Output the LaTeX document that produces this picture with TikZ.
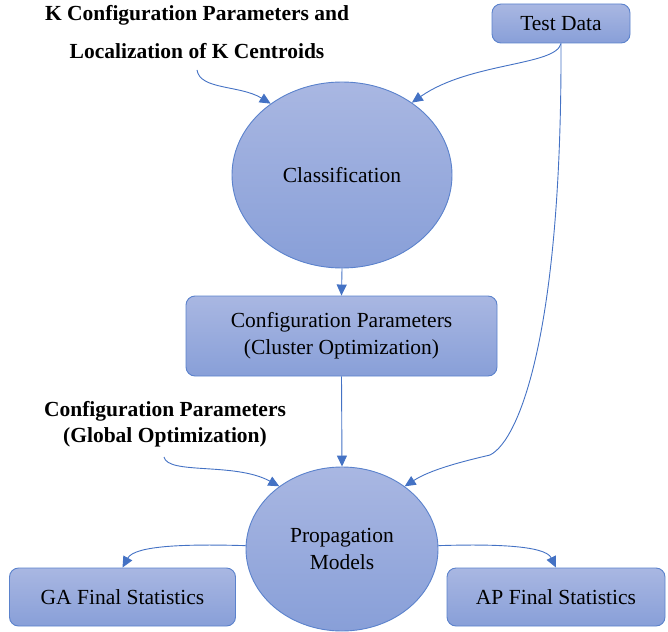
\documentclass[tikz,border=0pt]{standalone}
\usepackage{fontspec}
\setmainfont{Liberation Serif}
\usetikzlibrary{arrows.meta,shapes.geometric}
\definecolor{edgeblue}{HTML}{4472C4}
\definecolor{rimblue}{HTML}{5B82CC}
\definecolor{filltop}{HTML}{A9B7E2}
\definecolor{fillbot}{HTML}{889FD8}
\tikzset{
  shaded/.style={top color=filltop, bottom color=fillbot, draw=rimblue, line width=0.9pt,
    font=\fontsize{21.5}{27}\selectfont, align=center, inner sep=0pt},
  procbox/.style={shaded, rectangle, rounded corners=9pt},
  blob/.style={shaded, ellipse},
  flow/.style={draw=edgeblue, line width=0.9pt, -{Triangle[length=11pt,width=10pt]}},
  boldnote/.style={font=\bfseries\fontsize{21.5}{26}\selectfont, align=center, inner sep=0pt}
}
\begin{document}
\begin{tikzpicture}[x=1pt,y=-1pt]
\useasboundingbox (0,0) rectangle (668,631);

% input notes
\node[boldnote, font=\bfseries\fontsize{21.5}{38}\selectfont] (knote) at (197,32)
  {K Configuration Parameters and\\Localization of K Centroids};
\node[boldnote] (gnote) at (165,424) {Configuration Parameters\\(Global Optimization)};
\coordinate (ktail) at (197,70);
\coordinate (gtail) at (164,457);

% processing blocks
\node[procbox, minimum width=138pt, minimum height=39pt] (test) at (561,23.5) {Test Data};
\node[blob, minimum width=220pt, minimum height=186pt] (cls) at (342,175) {Classification};
\node[procbox, minimum width=311pt, minimum height=80pt] (cfg) at (341.5,336)
  {Configuration Parameters\\(Cluster Optimization)};
\node[blob, minimum width=192pt, minimum height=164pt] (prop) at (342,549) {Propagation\\Models};
\node[procbox, minimum width=226pt, minimum height=58pt] (ga) at (122.5,597) {GA Final Statistics};
\node[procbox, minimum width=218pt, minimum height=58pt] (ap) at (556,597) {AP Final Statistics};

% connectors
\draw[flow] (ktail) .. controls (200,90) and (240,85) .. (cls.135);
\draw[flow] (test.south) .. controls (556,66) and (470,62) .. (cls.46);
\draw[flow] (cls.south) -- (cfg.north);
\draw[flow] (cfg.south) -- (prop.north);
\draw[flow] (test.south) .. controls (562,330) and (520,440) .. (490,455)
  .. controls (460,462) and (430,470) .. (prop.45);
\draw[flow] (gtail) .. controls (168,475) and (235,462) .. (prop.135);
\draw[flow] (prop.178) .. controls (190,544) and (135,545) .. (ga.north);
\draw[flow] (prop.2) .. controls (490,544) and (545,545) .. (ap.north);
\end{tikzpicture}
\end{document}
